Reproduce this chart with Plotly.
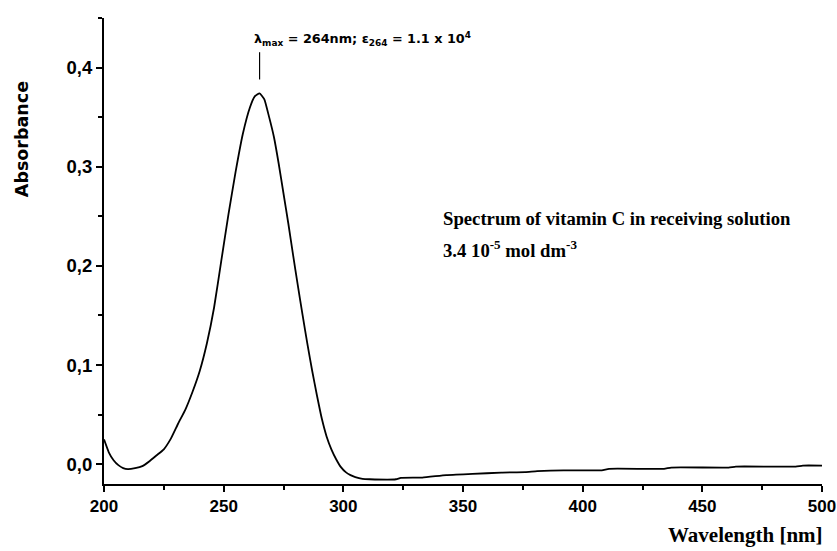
import plotly.graph_objects as go

wavelength = [200, 202, 204, 206, 208, 210, 213, 216, 219, 222, 225, 228, 231, 234, 237,
              240, 243, 246, 249, 252, 255, 258, 261, 263, 265, 267, 269, 271, 273, 275,
              277, 279, 281, 283, 285, 287, 289, 291, 293, 295, 297, 299, 301, 303, 305,
              308, 311, 322, 324, 333, 343, 354, 366, 376, 381, 392, 408, 411, 434, 437,
              461, 464, 489, 492, 500]
absorbance = [0.025, 0.012, 0.004, -0.001, -0.004, -0.005, -0.004, -0.002, 0.003, 0.009,
              0.015, 0.026, 0.041, 0.055, 0.073, 0.094, 0.122, 0.158, 0.205, 0.252, 0.295,
              0.333, 0.360, 0.371, 0.374, 0.368, 0.350, 0.330, 0.303, 0.273, 0.243, 0.211,
              0.180, 0.150, 0.121, 0.094, 0.069, 0.046, 0.028, 0.015, 0.005, -0.003, -0.008,
              -0.011, -0.013, -0.0148, -0.0152, -0.0152, -0.0138, -0.0135, -0.011, -0.0098,
              -0.0085, -0.008, -0.007, -0.0062, -0.0062, -0.0047, -0.0047, -0.0034, -0.0034,
              -0.0024, -0.0024, -0.0014, -0.0014]

x_ticks = [200, 250, 300, 350, 400, 450, 500]
y_ticks = [0.0, 0.1, 0.2, 0.3, 0.4]

peak_i = max(range(len(absorbance)), key=lambda i: absorbance[i])
peak_wl = wavelength[peak_i]
peak_abs = absorbance[peak_i]

SANS = "DejaVu Sans, Arial, sans-serif"
ARIAL = "Liberation Sans, Arial, sans-serif"
SERIF = "Liberation Serif, Times New Roman, serif"

fig = go.Figure()
fig.add_trace(go.Scatter(x=wavelength, y=absorbance, mode="lines",
                         line=dict(color="black", width=1.8, shape="spline", smoothing=0.4),
                         hoverinfo="skip", showlegend=False))

fig.add_shape(type="line", xref="x", yref="y", x0=peak_wl, x1=peak_wl,
              y0=peak_abs + 0.014, y1=peak_abs + 0.0415, line=dict(color="black", width=1.2))

fig.add_annotation(xref="x", yref="y", x=261.7, y=0.4286, xanchor="left", yanchor="middle",
                   showarrow=False,
                   text="<b>λ<sub>max</sub> = 264nm; ε<sub>264</sub> = 1.1 x 10<sup>4</sup></b>",
                   font=dict(family=SANS, size=12.8, color="black"))
fig.add_annotation(xref="x", yref="y", x=340.8, y=0.2478, xanchor="left", yanchor="middle",
                   showarrow=False, text="<b>Spectrum of vitamin C in receiving solution</b>",
                   font=dict(family=SERIF, size=18.7, color="black"))
fig.add_annotation(xref="x", yref="y", x=340.8, y=0.2175, xanchor="left", yanchor="middle",
                   showarrow=False, text="<b>3.4 10<sup>-5</sup> mol dm<sup>-3</sup></b>",
                   font=dict(family=SERIF, size=18.7, color="black"))
fig.add_annotation(xref="paper", yref="paper", x=-0.1142, y=0.740, xanchor="center",
                   yanchor="middle", textangle=-90, showarrow=False, text="<b>Absorbance</b>",
                   font=dict(family=SANS, size=17.5, color="black"))
fig.add_annotation(xref="paper", yref="paper", x=1.004, y=-0.1094, xanchor="right",
                   yanchor="middle", showarrow=False, text="<b>Wavelength [nm]</b>",
                   font=dict(family=SERIF, size=21, color="black"))

fig.update_layout(
    width=837, height=551,
    margin=dict(l=104, r=15, t=18, b=67, autoexpand=False),
    paper_bgcolor="white", plot_bgcolor="white",
    separators=",.",
    xaxis=dict(range=[200, 500], tickvals=x_ticks, ticks="outside", ticklen=6, tickwidth=2,
               tickcolor="black", showline=True, linecolor="black", linewidth=2,
               showgrid=False, zeroline=False, automargin=False,
               tickfont=dict(family=ARIAL, size=17, color="black", weight="bold"),
               minor=dict(ticks="outside", dtick=25, tick0=200, ticklen=4, tickwidth=2,
                          tickcolor="black", showgrid=False)),
    yaxis=dict(range=[-0.02, 0.45], tickvals=y_ticks, tickformat=".1f", ticks="outside",
               ticklen=6, tickwidth=2, tickcolor="black", showline=True, linecolor="black",
               linewidth=2, showgrid=False, zeroline=False, automargin=False,
               tickfont=dict(family=ARIAL, size=18.5, color="black", weight="bold"),
               minor=dict(ticks="outside", dtick=0.05, tick0=0, ticklen=4, tickwidth=2,
                          tickcolor="black", showgrid=False)),
)

fig.write_html("out.html", config={"displayModeBar": False},
               post_script="document.body.style.margin='0';document.body.style.overflow='hidden';")
